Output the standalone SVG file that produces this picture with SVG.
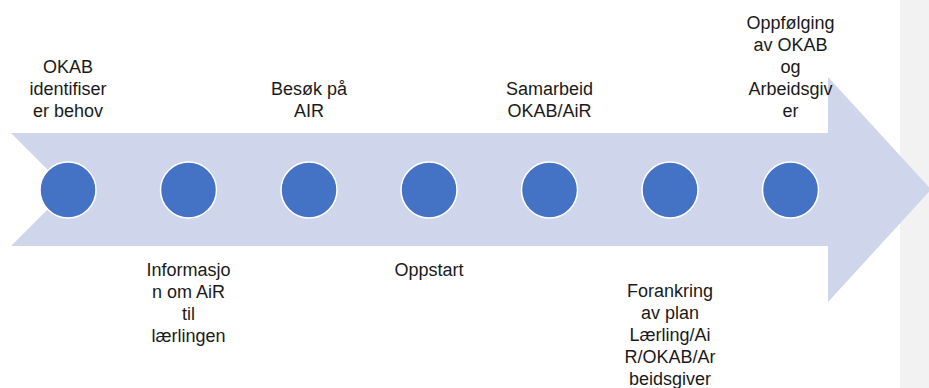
<svg xmlns="http://www.w3.org/2000/svg" width="929" height="388" viewBox="0 0 929 388">
<style>
.lbl{font-family:"Liberation Sans",Arial,sans-serif;font-size:18px;fill:#1a1a1a;text-anchor:middle}
.dot{fill:#4472C4;stroke:#ffffff;stroke-width:1.5}
</style>
<rect x="0" y="0" width="929" height="388" fill="#ffffff"/>
<rect x="900" y="0" width="29" height="388" fill="#f2f2f2"/>
<path d="M11,133 L828,133 L828,77 L931,189.5 L828,302 L828,246 L11,246 L67.5,189.5 Z" fill="#CFD5EA"/>
<g id="connectors"/>
<g id="n1"><circle class="dot" cx="68" cy="190" r="28"/>
<text class="lbl"><tspan x="68" y="73">OKAB</tspan><tspan x="68" y="95">identifiser</tspan><tspan x="68" y="117">er behov</tspan></text></g>
<g id="n2"><circle class="dot" cx="188.5" cy="190" r="28"/>
<text class="lbl"><tspan x="188.5" y="276">Informasjo</tspan><tspan x="188.5" y="298">n om AiR</tspan><tspan x="188.5" y="320">til</tspan><tspan x="188.5" y="342">lærlingen</tspan></text></g>
<g id="n3"><circle class="dot" cx="309" cy="190" r="28"/>
<text class="lbl"><tspan x="309" y="95">Besøk på</tspan><tspan x="309" y="117">AIR</tspan></text></g>
<g id="n4"><circle class="dot" cx="429" cy="190" r="28"/>
<text class="lbl"><tspan x="429" y="276">Oppstart</tspan></text></g>
<g id="n5"><circle class="dot" cx="549.5" cy="190" r="28"/>
<text class="lbl"><tspan x="549.5" y="95">Samarbeid</tspan><tspan x="549.5" y="117">OKAB/AiR</tspan></text></g>
<g id="n6"><circle class="dot" cx="670" cy="190" r="28"/>
<text class="lbl"><tspan x="670" y="297">Forankring</tspan><tspan x="670" y="319">av plan</tspan><tspan x="670" y="341">Lærling/Ai</tspan><tspan x="670" y="363">R/OKAB/Ar</tspan><tspan x="670" y="385">beidsgiver</tspan></text></g>
<g id="n7"><circle class="dot" cx="790.5" cy="190" r="28"/>
<text class="lbl"><tspan x="790.5" y="29">Oppfølging</tspan><tspan x="790.5" y="51">av OKAB</tspan><tspan x="790.5" y="73">og</tspan><tspan x="790.5" y="95">Arbeidsgiv</tspan><tspan x="790.5" y="117">er</tspan></text></g>
</svg>
